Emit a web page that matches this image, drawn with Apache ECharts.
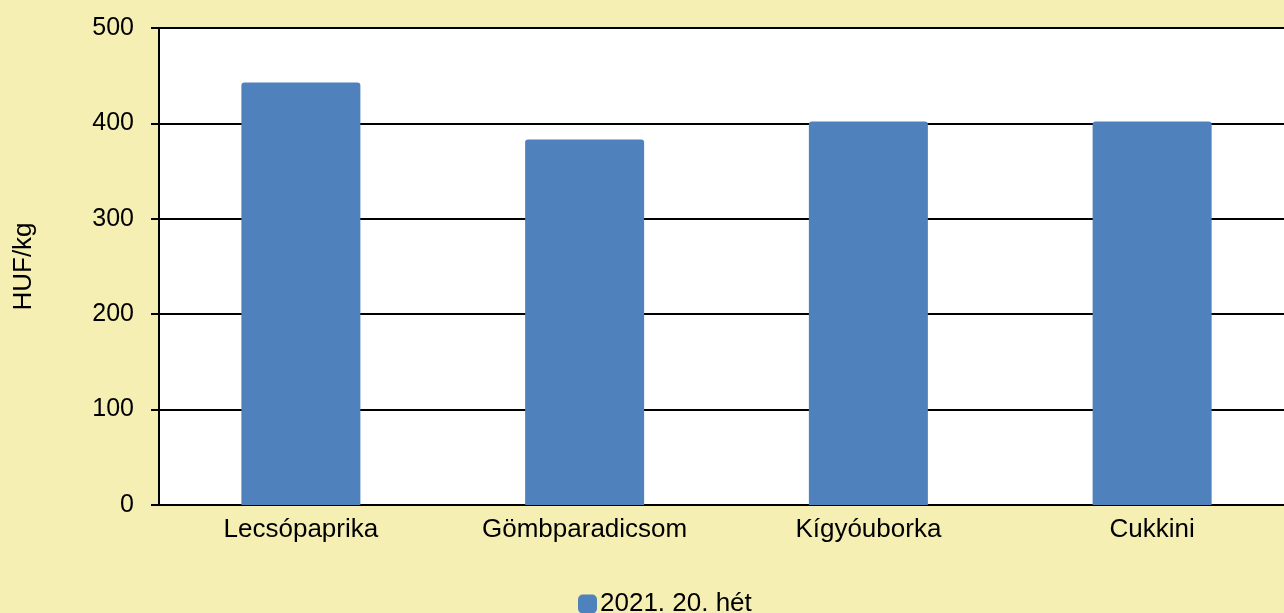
<!DOCTYPE html>
<html>
<head>
<meta charset="utf-8">
<script src="https://cdn.jsdelivr.net/npm/echarts@6/dist/echarts.min.js"></script>
<style>
  html, body { margin: 0; padding: 0; background: #f5efb4; }
  #chart { width: 1284px; height: 613px; }
</style>
</head>
<body>
<div id="chart"></div>
<script>
var categories = ["Lecsópaprika", "Gömbparadicsom", "Kígyóuborka", "Cukkini"];
var seriesName = "2021. 20. hét";
var values = [443, 383, 402, 402];

var myChart = echarts.init(document.getElementById("chart"));
var option = {
  backgroundColor: "#f5efb4",
  textStyle: { fontFamily: "Liberation Sans, Arial, sans-serif" },
  grid: {
    left: 159,
    width: 1135,
    top: 28,
    height: 477,
    containLabel: false,
    outerBoundsMode: "none",
    show: true,
    backgroundColor: "#ffffff",
    borderWidth: 0
  },
  legend: {
    top: 586,
    left: 573,
    itemWidth: 19,
    itemHeight: 19,
    itemGap: 4,
    icon: "roundRect",
    textStyle: { color: "#000", fontSize: 26, padding: [0, 0, 0, -2] },
    data: [seriesName]
  },
  xAxis: {
    type: "category",
    data: categories,
    axisLine: { lineStyle: { color: "#000", width: 2 } },
    axisTick: { show: false },
    axisLabel: { color: "#000", fontSize: 26, margin: 12 }
  },
  yAxis: {
    type: "value",
    min: 0,
    max: 500,
    interval: 100,
    name: "HUF/kg",
    nameLocation: "middle",
    nameGap: 135,
    nameRotate: 90,
    nameTextStyle: { color: "#000", fontSize: 26, verticalAlign: "middle" },
    axisLine: { show: true, lineStyle: { color: "#000", width: 2 } },
    axisTick: { show: true, inside: false, length: 8, lineStyle: { color: "#000", width: 2 } },
    axisLabel: { color: "#000", fontSize: 25, margin: 25 },
    splitLine: { show: true, lineStyle: { color: "#000", width: 2 } }
  },
  series: [
    {
      name: seriesName,
      type: "bar",
      data: values,
      barWidth: 119,
      itemStyle: { color: "#4f81bd", borderRadius: [3, 3, 0, 0] }
    }
  ]
};
myChart.setOption(option);
</script>
</body>
</html>
